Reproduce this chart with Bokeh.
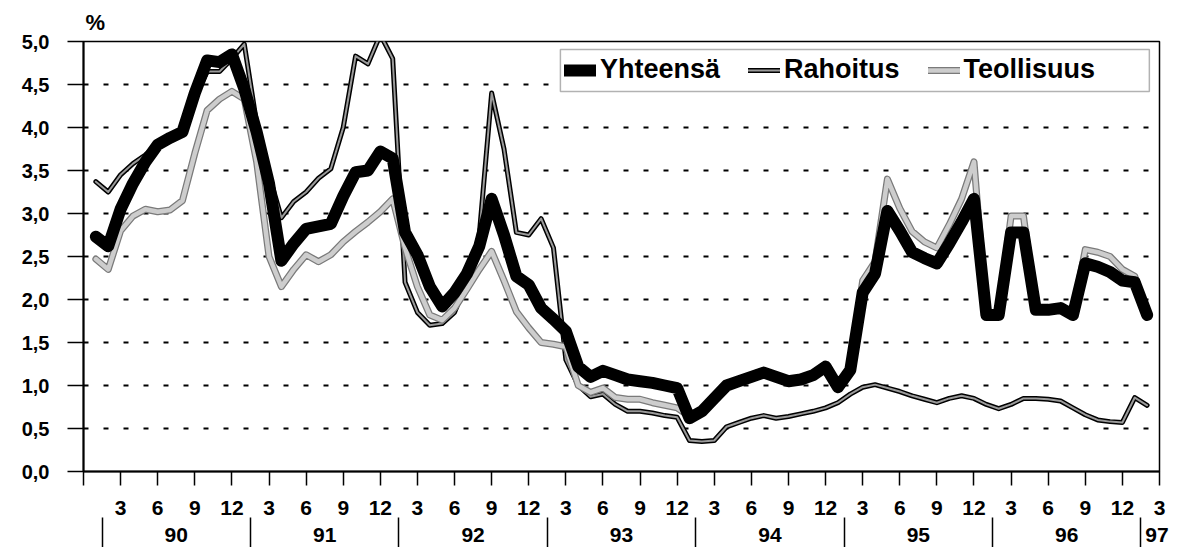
from bokeh.plotting import figure
from bokeh.models import (Range1d, FixedTicker, LinearAxis, Legend, LegendItem,
                          BoxAnnotation, ColumnDataSource)
from bokeh.embed import file_html
from bokeh.resources import INLINE

# month index: 1 = Jan 1990 ... 86 = Feb 1997
months = list(range(1, 87))

yhteensa = [
    2.73, 2.62, 3.05, 3.35, 3.60, 3.80, 3.88, 3.95, 4.40, 4.78, 4.76, 4.85,
    4.45, 3.95, 3.35, 2.45, 2.65, 2.82, 2.85, 2.88, 3.20, 3.48, 3.50, 3.72,
    3.64, 2.78, 2.52, 2.15, 1.92, 2.08, 2.30, 2.62, 3.17, 2.75, 2.27, 2.17,
    1.90, 1.77, 1.63, 1.22, 1.10, 1.17, 1.12, 1.07, 1.05, 1.03, 1.00, 0.97,
    0.62, 0.70, 0.85, 1.00, 1.05, 1.10, 1.15, 1.10, 1.05, 1.07, 1.12, 1.22,
    0.98, 1.18, 2.08, 2.30, 3.03, 2.80, 2.55, 2.48, 2.42, 2.65, 2.90, 3.17,
    1.82, 1.82, 2.78, 2.78, 1.88, 1.88, 1.90, 1.82, 2.42, 2.38, 2.32, 2.22,
    2.20, 1.82]

rahoitus = [
    3.37, 3.25, 3.45, 3.58, 3.68, 3.80, 3.88, 3.95, 4.35, 4.65, 4.65, 4.80,
    4.97, 4.05, 3.45, 2.95, 3.14, 3.25, 3.41, 3.52, 4.00, 4.83, 4.74, 5.08,
    4.80, 2.20, 1.85, 1.70, 1.72, 1.85, 2.20, 2.75, 4.40, 3.75, 2.78, 2.75,
    2.94, 2.60, 1.30, 1.00, 0.87, 0.90, 0.78, 0.70, 0.70, 0.68, 0.65, 0.63,
    0.36, 0.35, 0.36, 0.52, 0.57, 0.62, 0.65, 0.62, 0.64, 0.67, 0.70, 0.74,
    0.80, 0.90, 0.98, 1.01, 0.97, 0.93, 0.88, 0.84, 0.80, 0.85, 0.88, 0.85,
    0.78, 0.73, 0.78, 0.85, 0.85, 0.84, 0.82, 0.74, 0.66, 0.60, 0.58, 0.57,
    0.86, 0.77]

teollisuus = [
    2.47, 2.35, 2.80, 2.97, 3.05, 3.02, 3.04, 3.15, 3.70, 4.20, 4.33, 4.42,
    4.33, 3.60, 2.50, 2.15, 2.35, 2.52, 2.44, 2.52, 2.67, 2.79, 2.90, 3.02,
    3.17, 2.60, 2.15, 1.82, 1.76, 1.90, 2.12, 2.35, 2.56, 2.22, 1.86, 1.67,
    1.50, 1.48, 1.45, 1.00, 0.92, 0.97, 0.86, 0.84, 0.84, 0.80, 0.77, 0.74,
    0.64, 0.72, 0.87, 1.02, 1.07, 1.12, 1.17, 1.12, 1.07, 1.09, 1.14, 1.24,
    1.00, 1.20, 2.22, 2.44, 3.40, 3.06, 2.79, 2.67, 2.60, 2.87, 3.17, 3.60,
    1.85, 1.85, 2.97, 2.97, 1.90, 1.90, 1.92, 1.85, 2.58, 2.55, 2.50, 2.35,
    2.27, 1.85]

series_names = ["Yhteensä", "Rahoitus", "Teollisuus"]

x_tick_pos = list(range(0, 88, 3))
x_tick_labels = ["", "3", "6", "9", "12"] + ["3", "6", "9", "12"] * 6 + ["3", "6", "9", "12", "3"]
x_tick_labels = x_tick_labels[:len(x_tick_pos)]

years = ["90", "91", "92", "93", "94", "95", "96", "97"]
year_centers = [7.5, 19.5, 31.5, 43.5, 55.5, 67.5, 79.5, 86.8]
year_separators = [1.5, 13.5, 25.5, 37.5, 49.5, 61.5, 73.5, 85.5]

y_ticks = [0.0, 0.5, 1.0, 1.5, 2.0, 2.5, 3.0, 3.5, 4.0, 4.5, 5.0]
y_tick_labels = ["0,0", "0,5", "1,0", "1,5", "2,0", "2,5", "3,0", "3,5", "4,0", "4,5", "5,0"]

FONT = "Liberation Sans"

p = figure(width=1177, height=547, x_range=Range1d(0, 87), y_range=Range1d(0, 5),
           output_backend="svg", toolbar_location=None,
           min_border_left=83, min_border_right=18, min_border_top=39, min_border_bottom=76)
p.background_fill_color = "white"
p.border_fill_color = "white"
p.outline_line_color = "black"
p.outline_line_width = 1.5

p.title.text = "%"
p.title.align = "left"
p.title.offset = 2
p.title.standoff = 14
p.title.text_font = FONT
p.title.text_font_style = "bold"
p.title.text_font_size = "22px"
p.title.text_color = "black"

p.xgrid.visible = False
p.ygrid.ticker = FixedTicker(ticks=y_ticks)
p.ygrid.grid_line_color = "black"
p.ygrid.grid_line_dash = "5 15"
p.ygrid.grid_line_width = 2

xa = p.xaxis[0]
xa.ticker = FixedTicker(ticks=x_tick_pos)
xa.major_label_overrides = dict(zip(x_tick_pos, x_tick_labels))
xa.major_tick_out = 14
xa.major_tick_in = 0
xa.minor_tick_out = 0
xa.minor_tick_line_color = None
xa.axis_line_width = 2
xa.major_tick_line_width = 1.5
xa.major_label_text_font = FONT
xa.major_label_text_font_style = "bold"
xa.major_label_text_font_size = "21px"
xa.major_label_text_color = "black"
xa.major_label_standoff = 15

ya = p.yaxis[0]
ya.ticker = FixedTicker(ticks=y_ticks)
ya.major_label_overrides = dict(zip(y_ticks, y_tick_labels))
ya.major_tick_out = 16
ya.major_tick_in = 0
ya.minor_tick_line_color = None
ya.axis_line_width = 2
ya.major_tick_line_width = 1.5
ya.major_label_text_font = FONT
ya.major_label_text_font_style = "bold"
ya.major_label_text_font_size = "20px"
ya.major_label_text_color = "black"
ya.major_label_standoff = 18

year_axis = LinearAxis(ticker=FixedTicker(ticks=year_centers, minor_ticks=year_separators))
year_axis.major_label_overrides = dict(zip(year_centers, years))
year_axis.axis_line_color = None
year_axis.major_tick_out = 0
year_axis.major_tick_in = 0
year_axis.minor_tick_out = 31
year_axis.minor_tick_in = 0
year_axis.minor_tick_line_width = 1.5
year_axis.minor_tick_line_color = "black"
year_axis.major_label_text_font = FONT
year_axis.major_label_text_font_style = "bold"
year_axis.major_label_text_font_size = "21px"
year_axis.major_label_text_color = "black"
year_axis.major_label_standoff = -21
p.add_layout(year_axis, "below")

src = ColumnDataSource(dict(m=months, y=yhteensa, r=rahoitus, t=teollisuus))

r_out = p.line("m", "r", source=src, line_color="black", line_width=5,
               line_join="round", line_cap="round")
r_in = p.line("m", "r", source=src, line_color="#9a9a9a", line_width=2,
              line_join="round", line_cap="round")
t_out = p.line("m", "t", source=src, line_color="#7a7a7a", line_width=7,
               line_join="round", line_cap="round")
t_in = p.line("m", "t", source=src, line_color="#cdcdcd", line_width=4.5,
              line_join="round", line_cap="round")
y_line = p.line("m", "y", source=src, line_color="black", line_width=12,
                line_join="round", line_cap="round")

box = BoxAnnotation(left=38.56, right=86.18, top=4.907, bottom=4.42,
                    fill_color="white", fill_alpha=1.0,
                    line_color="black", line_width=1.5)
p.add_layout(box)

legend = Legend(items=[LegendItem(label=series_names[0], renderers=[y_line]),
                       LegendItem(label=series_names[1], renderers=[r_out, r_in]),
                       LegendItem(label=series_names[2], renderers=[t_out, t_in])],
                orientation="horizontal", location=(481, 386),
                border_line_color=None, background_fill_alpha=0.0,
                label_text_font=FONT, label_text_font_style="bold",
                label_text_font_size="27px", label_text_color="black",
                glyph_width=32, glyph_height=20, label_standoff=4,
                spacing=28, padding=4, margin=0)
p.add_layout(legend)

open("out.html", "w").write(file_html(p, INLINE))
